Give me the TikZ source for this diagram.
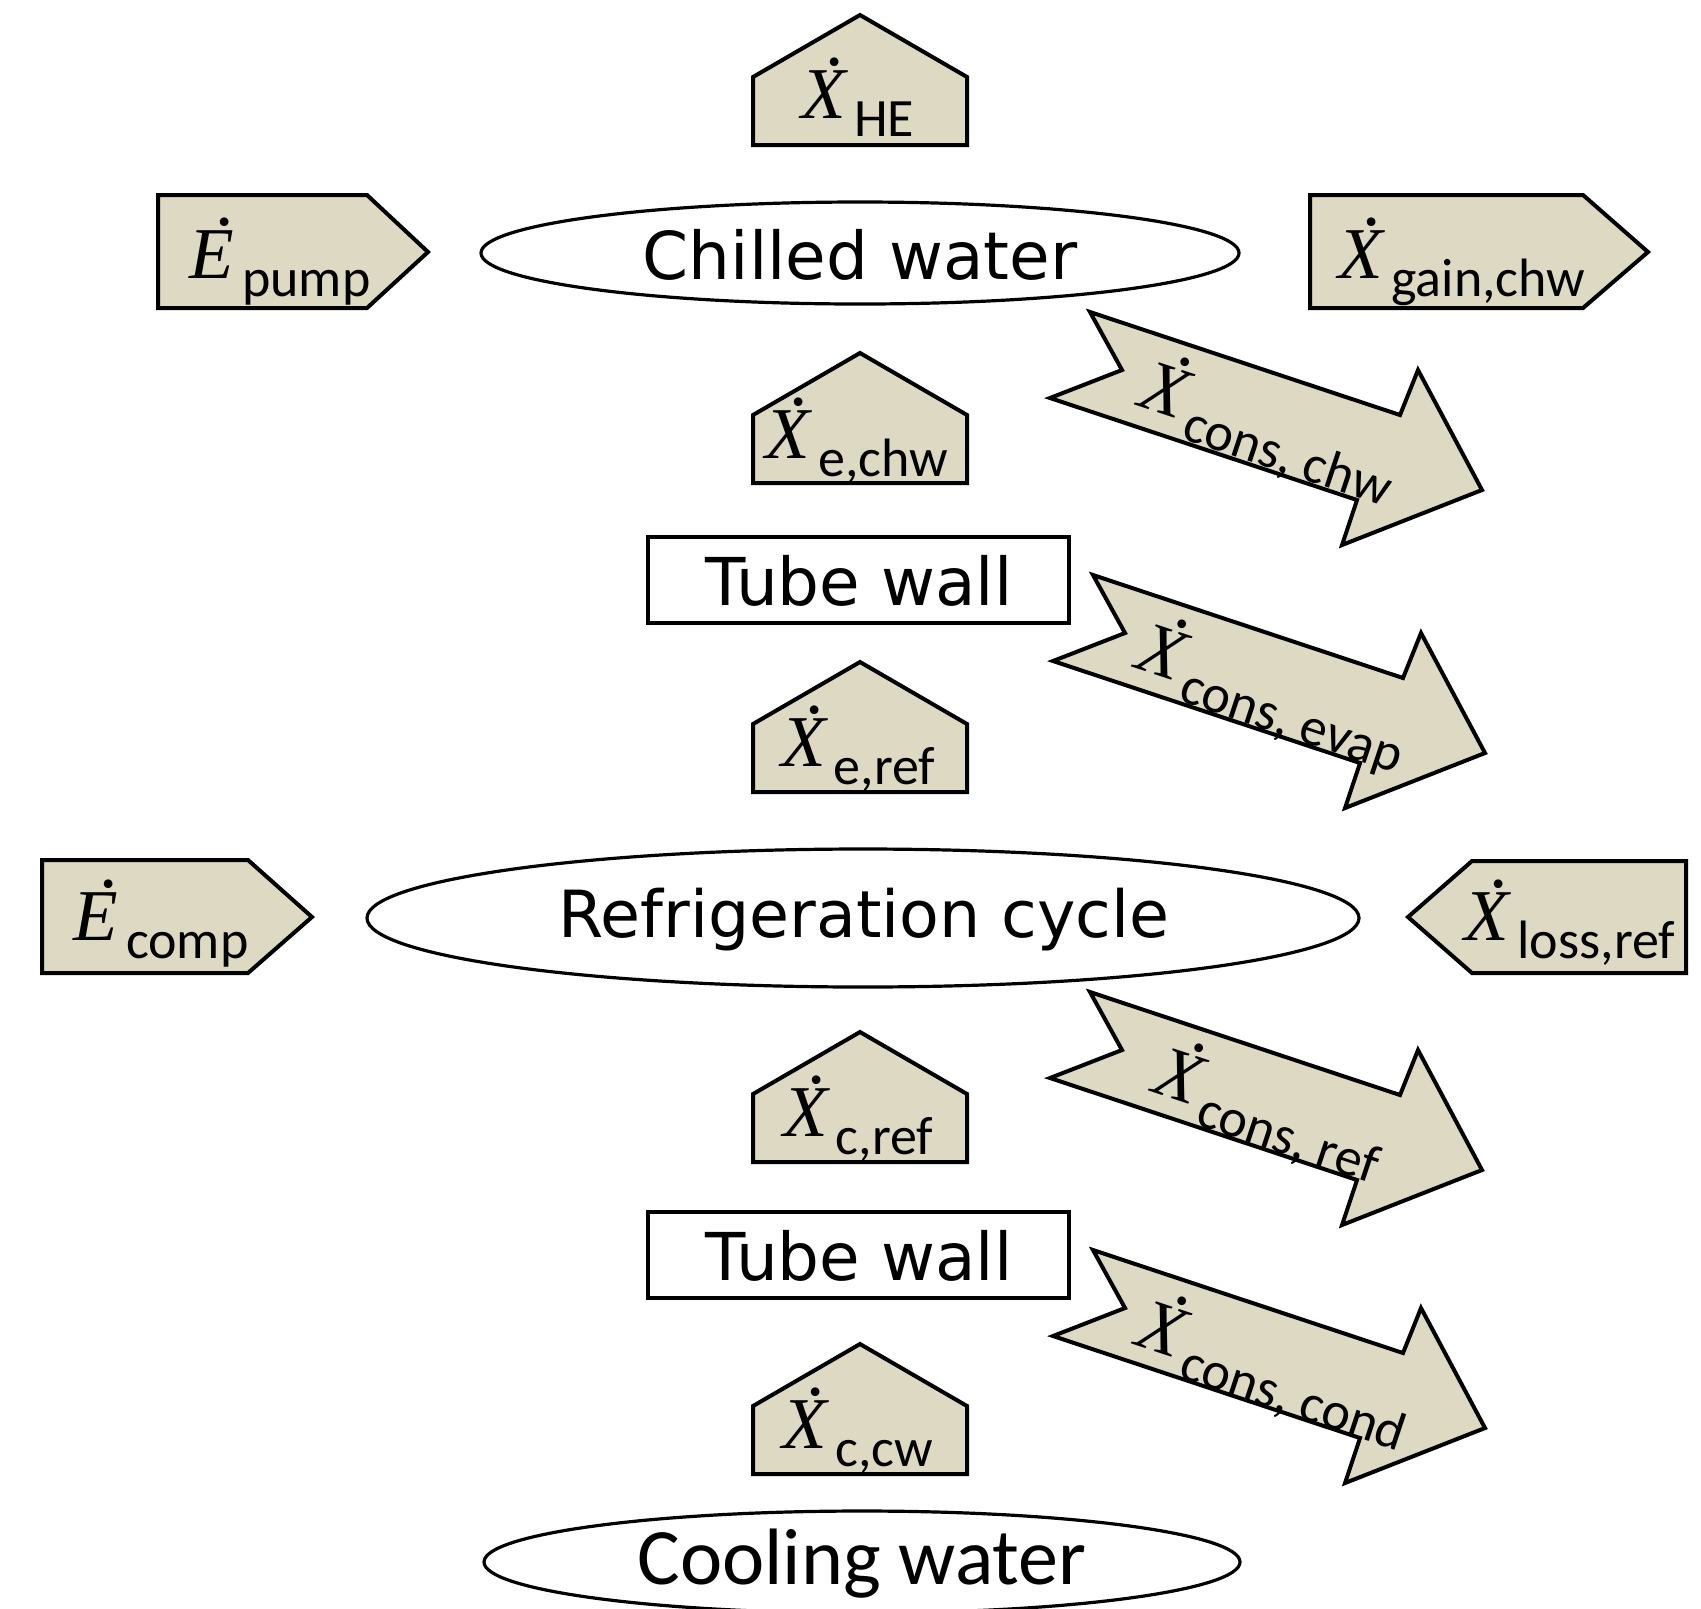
\documentclass[tikz,border=0pt]{standalone}
\usepackage{fontspec}
\newfontfamily\dvs{DejaVu Sans}
\newfontfamily\crl{Carlito}
\newfontfamily\tms{Liberation Serif}
\definecolor{tanfill}{RGB}{221,217,195}
\tikzset{
  flowshape/.style={draw=black,line width=2pt,fill=tanfill,line join=miter},
  plainshape/.style={draw=black,line width=1.6pt},
  lab/.style={inner sep=0pt,outer sep=0pt,anchor=base},
  rotlab/.style={inner sep=0pt,outer sep=0pt,anchor=base west,rotate=-18.4},
  bigtxt/.style={inner sep=0pt,font=\dvs\fontsize{33}{38}\selectfont},
}
% dotted italic letter: #1 letter, #2 horizontal offset of the dot
\newcommand\dotlet[2]{{\tms\itshape\fontsize{36.5}{36}\selectfont\rlap{\hspace{#2}\raisebox{0.72em}{\upshape.}}#1}}
\newcommand\flowlab[3]{\dotlet{#1}{#3}\kern4pt\raisebox{-9pt}{\crl\fontsize{27}{27}\selectfont #2}}
\newcommand\xlab[1]{\flowlab{X}{#1}{0.33em}}
\newcommand\elab[1]{\flowlab{E}{#1}{0.36em}}
\newcommand\housepath[1]{(753,#1+130) -- (753,#1+62) -- (860,#1) -- (967,#1+62) -- (967,#1+130) -- cycle}
\newcommand\conspath{(1090,312) -- (1400,415) -- (1418,370) -- (1482,490) -- (1342,545) -- (1357,500) -- (1050,398) -- (1122,370) -- cycle}
\begin{document}
\begin{tikzpicture}[x=0.5pt,y=-0.5pt]
\useasboundingbox (0,0) rectangle (1701,1608);
\fill[white] (0,0) rectangle (1701,1608);

% top house
\draw[flowshape] \housepath{15};
\node[lab] (lHE) at (858,118) {\xlab{HE}};

% pump / gain
\draw[flowshape] (158,195) -- (367,195) -- (428,252) -- (367,308) -- (158,308) -- cycle;
\node[lab] (lpump) at (280,278) {\elab{pump}};
\draw[flowshape] (1310,195) -- (1583,195) -- (1648,252) -- (1583,308) -- (1310,308) -- cycle;
\node[lab] (lgain) at (1462,278) {\xlab{gain,chw}};

% chilled water
\draw[plainshape] (860,253) ellipse [x radius=379, y radius=51];
\node[bigtxt] (chw) at (860,255) {Chilled water};

% e,chw house
\draw[flowshape] \housepath{353};
\node[lab] (lechw) at (857,458) {\xlab{e,chw}};

% cons arrows
\draw[flowshape] \conspath;
\node[rotlab] (lconschw) at (1136,405) {\xlab{cons, chw}};
\begin{scope}[shift={(3,263)}]
\draw[flowshape] \conspath;
\end{scope}
\node[rotlab] (lconsevap) at (1133,667) {\xlab{cons, evap}};
\begin{scope}[shift={(0,680)}]
\draw[flowshape] \conspath;
\end{scope}
\node[rotlab] (lconsref) at (1150,1091) {\xlab{cons, ref}};
\begin{scope}[shift={(3,938)}]
\draw[flowshape] \conspath;
\end{scope}
\node[rotlab] (lconscond) at (1133,1344) {\xlab{cons, cond}};

% tube wall 1
\draw[plainshape] (648,537) rectangle (1069,623);
\node[bigtxt] (tw1) at (859,581) {Tube wall};

% e,ref house
\draw[flowshape] \housepath{662};
\node[lab] (leref) at (858,766) {\xlab{e,ref}};

% refrigeration cycle
\draw[plainshape] (863,918) ellipse [x radius=496, y radius=69];
\node[bigtxt,font=\dvs\fontsize{32.5}{38}\selectfont] (rc) at (864,920) {Refrigeration cycle};

% comp / loss
\draw[flowshape] (42,860) -- (248,860) -- (312,917) -- (248,973) -- (42,973) -- cycle;
\node[lab] (lcomp) at (161,940) {\elab{comp}};
\draw[flowshape] (1686,861) -- (1472,861) -- (1408,917) -- (1472,973) -- (1686,973) -- cycle;
\node[lab] (lloss) at (1570,940) {\xlab{loss,ref}};

% c,ref house
\draw[flowshape] \housepath{1032};
\node[lab] (lcref) at (858,1136) {\xlab{c,ref}};

% tube wall 2
\draw[plainshape] (648,1212) rectangle (1069,1298);
\node[bigtxt] (tw2) at (859,1256) {Tube wall};

% c,cw house
\draw[flowshape] \housepath{1344};
\node[lab] (lccw) at (858,1448) {\xlab{c,cw}};

% cooling water
\draw[plainshape] (862,1562) ellipse [x radius=378, y radius=51];
\node[inner sep=0pt,font=\crl\fontsize{40}{44}\selectfont] (cool) at (862,1564) {Cooling water};
\end{tikzpicture}
\end{document}
